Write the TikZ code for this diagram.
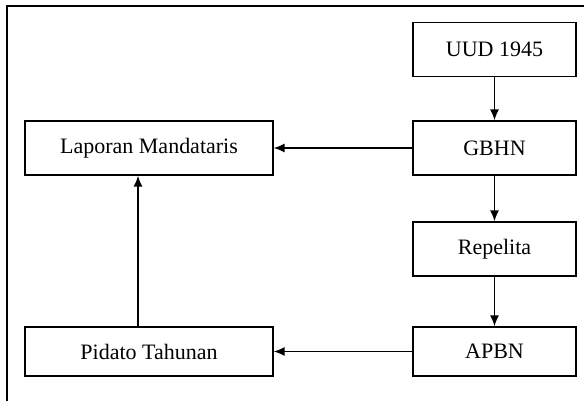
\documentclass[tikz,border=0pt]{standalone}
\usepackage{fontspec}
\setmainfont{Liberation Serif}
\usetikzlibrary{arrows.meta}

\tikzset{
  kotak/.style={draw, line width=0.6pt, minimum width=81.5pt, minimum height=27pt, inner sep=0pt, font=\fontsize{11}{13}\selectfont},
  kotaklebar/.style={kotak, minimum width=124pt},
  panah/.style={->, line width=0.8pt}
}

\begin{document}
\begin{tikzpicture}[>={Latex[length=5.5pt,width=4.5pt]}, x=0.5pt, y=-0.5pt]

\useasboundingbox (0,0) rectangle (584,401);

% Bingkai
\draw[line width=1pt] (7,401) -- (7,6) -- (584,6);

% Kolom kanan
\node[kotak] (uud) at (494.5,49.5) {UUD 1945};
\node[kotak] (gbhn) at (494.5,148) {GBHN};
\node[kotak] (repelita) at (494.5,249) {Repelita};
\node[kotak, minimum height=24.5pt] (apbn) at (494.5,351.5) {APBN};

% Kolom kiri
\node[kotaklebar] (laporan) at (149,148) {Laporan Mandataris};
\node[kotaklebar, minimum height=24.5pt] (pidato) at (149,351.5) {Pidato Tahunan};

% Panah turun
\draw[panah] (uud) -- (gbhn);
\draw[panah] (gbhn) -- (repelita);
\draw[panah] (repelita) -- (apbn);

% Panah ke kiri
\draw[panah] (gbhn) -- (laporan);
\draw[panah] (apbn) -- (pidato);

% Panah naik
\draw[panah] ([xshift=-5.5pt]pidato.north) -- ([xshift=-5.5pt]laporan.south);

\end{tikzpicture}
\end{document}
